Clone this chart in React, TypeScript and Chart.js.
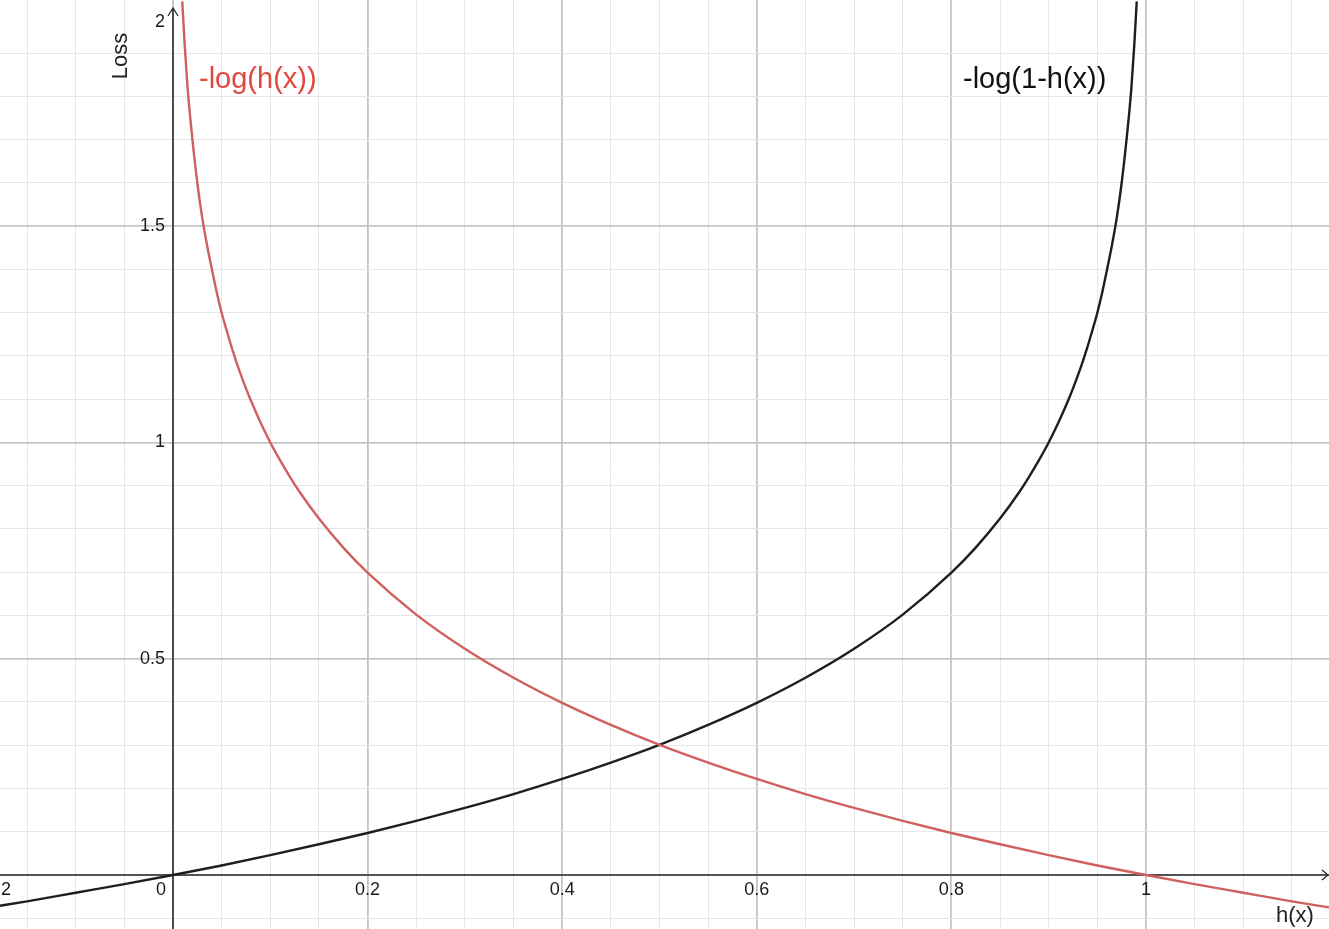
import React, { useEffect, useRef } from "react";
import { Chart, registerables } from "chart.js";

Chart.register(...registerables);

// -log(h(x))
const redX = [0.0095, 0.0105, 0.012, 0.015, 0.02, 0.025, 0.03, 0.035, 0.04, 0.045, 0.05, 0.055, 0.06, 0.065, 0.07, 0.075, 0.08, 0.09, 0.1, 0.11, 0.12, 0.13, 0.15, 0.175, 0.2, 0.25, 0.3, 0.35, 0.4, 0.45, 0.5, 0.55, 0.6, 0.65, 0.7, 0.75, 0.8, 0.85, 0.9, 0.95, 1.0, 1.05, 1.1, 1.15, 1.19];
const redY = [2.02, 1.98, 1.92, 1.82, 1.7, 1.6, 1.52, 1.456, 1.4, 1.347, 1.3, 1.26, 1.222, 1.187, 1.155, 1.125, 1.097, 1.046, 1.0, 0.959, 0.921, 0.886, 0.824, 0.757, 0.699, 0.602, 0.523, 0.456, 0.398, 0.347, 0.301, 0.26, 0.222, 0.187, 0.155, 0.125, 0.097, 0.071, 0.046, 0.022, 0.0, -0.021, -0.041, -0.061, -0.0755];

// -log(1-h(x))
const blackX = [-0.18, -0.15, -0.1, -0.05, 0.0, 0.05, 0.1, 0.15, 0.2, 0.25, 0.3, 0.35, 0.4, 0.45, 0.5, 0.55, 0.6, 0.65, 0.7, 0.75, 0.8, 0.825, 0.85, 0.87, 0.88, 0.89, 0.9, 0.91, 0.92, 0.925, 0.93, 0.935, 0.94, 0.945, 0.95, 0.955, 0.96, 0.965, 0.97, 0.975, 0.98, 0.985, 0.988, 0.9895, 0.9905];
const blackY = [-0.072, -0.061, -0.041, -0.021, 0.0, 0.022, 0.046, 0.071, 0.097, 0.125, 0.155, 0.187, 0.222, 0.26, 0.301, 0.347, 0.398, 0.456, 0.523, 0.602, 0.699, 0.757, 0.824, 0.886, 0.921, 0.959, 1.0, 1.046, 1.097, 1.125, 1.155, 1.187, 1.222, 1.26, 1.3, 1.347, 1.4, 1.456, 1.52, 1.6, 1.7, 1.82, 1.92, 1.98, 2.02];

const xTickLabels = ["-0.2", "0", "0.2", "0.4", "0.6", "0.8", "1"];
const xTickValues = [-0.2, 0, 0.2, 0.4, 0.6, 0.8, 1];
const yTickLabels = ["0.5", "1", "1.5", "2"];
const yTickValues = [0.5, 1, 1.5, 2];

const redLabel = "-log(h(x))";
const blackLabel = "-log(1-h(x))";
const xTitle = "h(x)";
const yTitle = "Loss";

const X_MIN = -0.1778;
const X_MAX = 1.1881;
const Y_MIN = -0.1249;
const Y_MAX = 2.0231;

const FONT = "'Liberation Sans', Arial, Helvetica, sans-serif";

const near = (v: number, step: number) => Math.abs(v / step - Math.round(v / step)) < 1e-6;

const overlay = {
  id: "geoOverlay",
  beforeDatasetsDraw(chart: any) {
    const { ctx, scales } = chart;
    const xs = scales.x;
    const ys = scales.y;
    const x0 = xs.getPixelForValue(0);
    const y0 = ys.getPixelForValue(0);
    ctx.save();
    ctx.strokeStyle = "#2b2b2b";
    ctx.lineWidth = 1.6;
    ctx.beginPath();
    ctx.moveTo(chart.chartArea.left, y0);
    ctx.lineTo(chart.chartArea.right, y0);
    ctx.moveTo(x0, chart.chartArea.top + 8);
    ctx.lineTo(x0, chart.chartArea.bottom);
    ctx.stroke();
    ctx.lineWidth = 1.3;
    ctx.beginPath();
    ctx.moveTo(x0 - 5, 16);
    ctx.lineTo(x0, 8);
    ctx.lineTo(x0 + 5, 16);
    ctx.moveTo(chart.chartArea.right - 7, y0 - 5);
    ctx.lineTo(chart.chartArea.right - 1, y0);
    ctx.lineTo(chart.chartArea.right - 7, y0 + 5);
    ctx.stroke();
    ctx.restore();
  },
  afterDatasetsDraw(chart: any) {
    const { ctx, scales } = chart;
    const xs = scales.x;
    const ys = scales.y;
    const x0 = xs.getPixelForValue(0);
    const y0 = ys.getPixelForValue(0);
    ctx.save();
    ctx.fillStyle = "#1a1a1a";
    ctx.font = `18px ${FONT}`;
    ctx.textBaseline = "middle";
    xTickValues.forEach((v, i) => {
      const px = xs.getPixelForValue(v);
      if (v === 0) {
        ctx.textAlign = "right";
        ctx.fillText(xTickLabels[i], x0 - 7, y0 + 15);
      } else if (v < 0) {
        ctx.textAlign = "right";
        ctx.fillText(xTickLabels[i], 11, y0 + 15);
      } else {
        ctx.textAlign = "center";
        ctx.fillText(xTickLabels[i], px, y0 + 15);
      }
    });
    yTickValues.forEach((v, i) => {
      let py = ys.getPixelForValue(v);
      if (py < 20) py = 22;
      ctx.textAlign = "right";
      ctx.fillText(yTickLabels[i], x0 - 8, py);
    });
    ctx.font = `22px ${FONT}`;
    ctx.fillStyle = "#222";
    ctx.textAlign = "left";
    ctx.textBaseline = "alphabetic";
    ctx.fillText(xTitle, 1276, 922);
    ctx.save();
    ctx.translate(127, 56);
    ctx.rotate(-Math.PI / 2);
    ctx.textAlign = "center";
    ctx.fillText(yTitle, 0, 0);
    ctx.restore();
    ctx.font = `29px ${FONT}`;
    ctx.textAlign = "left";
    ctx.fillStyle = "#e0483e";
    ctx.fillText(redLabel, 199, 88);
    ctx.fillStyle = "#111";
    ctx.fillText(blackLabel, 963, 88);
    ctx.restore();
  },
};

export default function App() {
  const ref = useRef<HTMLCanvasElement>(null);
  useEffect(() => {
    document.body.style.margin = "0";
    const canvas = ref.current;
    if (!canvas) return;
    const chart = new Chart(canvas, {
      type: "line",
      data: {
        datasets: [
          {
            label: redLabel,
            data: redX.map((x, i) => ({ x, y: redY[i] })),
            borderColor: "#d0605f",
            borderWidth: 2.4,
            pointRadius: 0,
            cubicInterpolationMode: "monotone",
            fill: false,
          },
          {
            label: blackLabel,
            data: blackX.map((x, i) => ({ x, y: blackY[i] })),
            borderColor: "#1e1e1e",
            borderWidth: 2.4,
            pointRadius: 0,
            cubicInterpolationMode: "monotone",
            fill: false,
          },
        ],
      },
      options: {
        animation: false,
        responsive: false,
        maintainAspectRatio: false,
        layout: { padding: 0 },
        plugins: { legend: { display: false }, tooltip: { enabled: false } },
        scales: {
          x: {
            type: "linear",
            min: X_MIN,
            max: X_MAX,
            afterFit: (s: any) => {
              s.height = 0;
            },
            afterBuildTicks: (s: any) => {
              const t = [];
              for (let k = -3; k <= 23; k++) t.push({ value: Math.round(k * 5) / 100 });
              s.ticks = t;
            },
            ticks: { display: false },
            border: { display: false },
            grid: {
              drawTicks: false,
              color: (c: any) => (near(c.tick.value, 0.2) ? "#c4c4c4" : "#e6e6e6"),
              lineWidth: (c: any) => (near(c.tick.value, 0.2) ? 1.8 : 1),
            },
          },
          y: {
            type: "linear",
            min: Y_MIN,
            max: Y_MAX,
            afterFit: (s: any) => {
              s.width = 0;
            },
            afterBuildTicks: (s: any) => {
              const t = [];
              for (let k = -1; k <= 19; k++) t.push({ value: Math.round(k * 10) / 100 });
              s.ticks = t;
            },
            ticks: { display: false },
            border: { display: false },
            grid: {
              drawTicks: false,
              color: (c: any) => (near(c.tick.value, 0.5) ? "#c4c4c4" : "#e6e6e6"),
              lineWidth: (c: any) => (near(c.tick.value, 0.5) ? 1.8 : 1),
            },
          },
        },
      },
      plugins: [overlay],
    } as any);
    return () => chart.destroy();
  }, []);
  return (
    <div style={{ width: 1329, height: 929, background: "#fff" }}>
      <canvas ref={ref} width={1329} height={929} style={{ display: "block" }} />
    </div>
  );
}
